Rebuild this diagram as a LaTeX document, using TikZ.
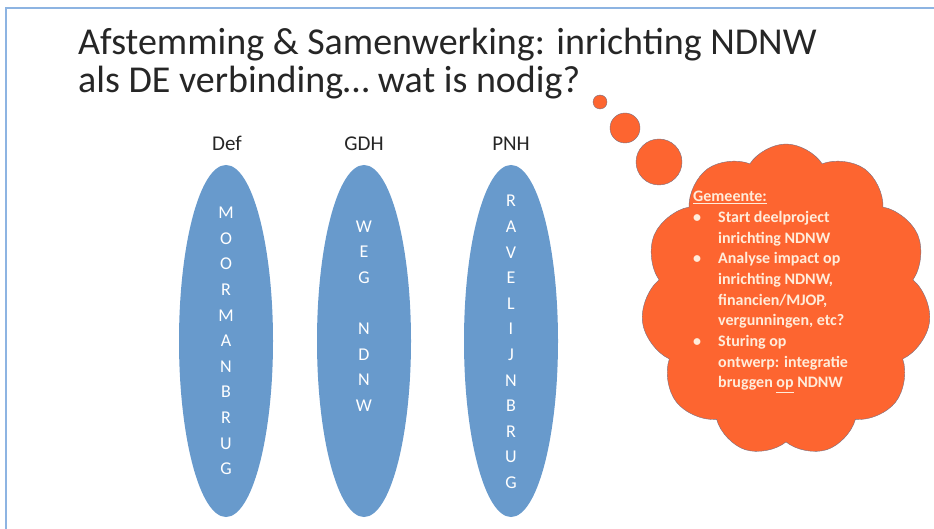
\documentclass[tikz,border=0pt]{standalone}
\usepackage{fontspec}
\setmainfont{Carlito}
\usetikzlibrary{shapes.geometric,shapes.symbols}
\definecolor{slideblue}{RGB}{104,154,204}
\definecolor{cloudorange}{RGB}{253,101,48}
\definecolor{cloudline}{RGB}{120,112,130}
\definecolor{framelight}{RGB}{141,180,226}
\definecolor{creamtext}{RGB}{255,236,218}
\definecolor{titlegrey}{RGB}{38,38,38}
\begin{document}
\begin{tikzpicture}[x=1pt,y=-1pt]
      % Define styles for nodes
      \tikzstyle{titleline} = [anchor=base west, inner sep=0pt,
      text=titlegrey, font=\fontsize{38}{38}\selectfont]
      \tikzstyle{party} = [anchor=base, inner sep=0pt, text=titlegrey,
      font=\fontsize{21}{21}\selectfont]
      \tikzstyle{pillar} = [ellipse, fill=slideblue, draw=none,
      minimum width=94pt, minimum height=352pt, inner sep=0pt]
      \tikzstyle{letters} = [align=center, inner sep=0pt, text=white,
      font=\fontsize{18}{25.6}\selectfont]
      \tikzstyle{bubble} = [circle, fill=cloudorange, draw=cloudline,
      thin, inner sep=0pt]
      \tikzstyle{thought} = [cloud, cloud puffs=11, cloud puff arc=115,
      cloud ignores aspect, fill=cloudorange, draw=cloudline, thin,
      minimum width=290pt, minimum height=312pt]
      \tikzstyle{cloudtext} = [anchor=north west, inner sep=0pt,
      text=creamtext, font=\fontsize{16}{20.7}\selectfont\bfseries]

      \useasboundingbox (0,0) rectangle (934,529);

      % Thin frame at top and left
      \draw[framelight, line width=1.5pt] (6,529) -- (6,8) -- (934,8);

      % Title
      \node[titleline] (title1) at (78,55)
      {Afstemming \& Samenwerking: inrichting NDNW};
      \node[titleline] (title2) at (78,93)
      {als DE verbinding\dots\ wat is nodig?};

      % Headings above the pillars
      \node[party] (def) at (227,151) {Def};
      \node[party] (gdh) at (364,151) {GDH};
      \node[party] (pnh) at (511,151) {PNH};

      % The three pillars
      \node[pillar] (defpillar) at (226,341) {};
      \node[pillar] (gdhpillar) at (364,341) {};
      \node[pillar] (pnhpillar) at (511,341) {};

      \node[letters] (defword) at (226,341)
      {M\\O\\O\\R\\M\\A\\N\\B\\R\\U\\G};
      \node[letters] (gdhword) at (364,316)
      {W\\E\\G\\~\\N\\D\\N\\W};
      \node[letters] (pnhword) at (511,342)
      {R\\A\\V\\E\\L\\I\\J\\N\\B\\R\\U\\G};

      % Thought bubbles
      \node[bubble, minimum size=14pt] (bubblea) at (600,102) {};
      \node[bubble, minimum size=30pt] (bubbleb) at (625,128) {};
      \node[bubble, minimum size=46pt] (bubblec) at (659,162) {};
      \node[thought] (gemeente) at (786,300) {};

      % Text in the cloud
      \node[cloudtext] (gemeentetext) at (693,187) {%
      \begin{tabular}{@{}p{25pt}@{}l@{}}
      \multicolumn{2}{@{}l@{}}{\underline{Gemeente:}}\\
      \textbullet & Start deelproject\\
                  & inrichting NDNW\\
      \textbullet & Analyse impact op\\
                  & inrichting NDNW,\\
                  & financien/MJOP,\\
                  & vergunningen, etc?\\
      \textbullet & Sturing op\\
                  & ontwerp: integratie\\
                  & bruggen \underline{op} NDNW
      \end{tabular}};

    \end{tikzpicture}
\end{document}
